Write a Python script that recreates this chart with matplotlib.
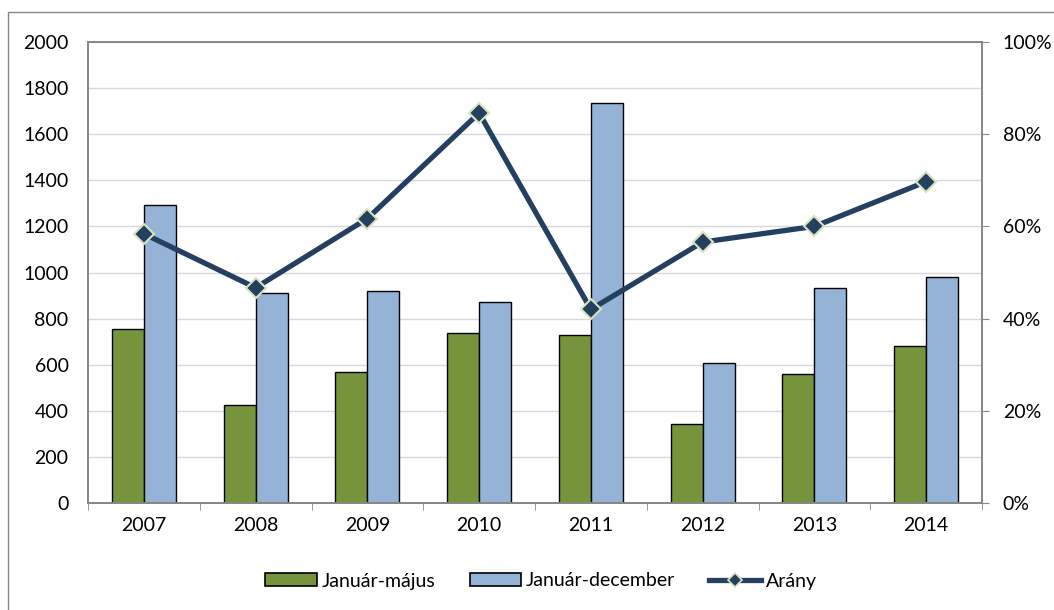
import matplotlib
matplotlib.use("Agg")
import matplotlib.pyplot as plt
import numpy as np
from matplotlib.lines import Line2D
from matplotlib.patches import Patch, Rectangle

plt.rcParams['font.family'] = ['Lato', 'DejaVu Sans']

years = ["2007", "2008", "2009", "2010", "2011", "2012", "2013", "2014"]
jan_maj = [755, 425, 568, 738, 729, 343, 560, 681]
jan_dec = [1293, 911, 920, 872, 1735, 607, 933, 980]
arany = [0.584, 0.467, 0.617, 0.846, 0.420, 0.566, 0.600, 0.697]

series_labels = ["Január-május", "Január-december", "Arány"]
green = "#77933C"
blue = "#95B3D7"
navy = "#243F60"
marker_edge = "#D7E4BD"
axis_gray = "#868686"
fs = 14

fig = plt.figure(figsize=(10.54, 6.10), dpi=100)
fig.patches.append(Rectangle((8 / 1054, -0.1), 1.2, 1 - 12 / 610 + 0.1,
                             transform=fig.transFigure, fill=False,
                             edgecolor=axis_gray, linewidth=1.0))

ax = fig.add_axes([88 / 1054, 1 - 503 / 610, (982 - 88) / 1054, (503 - 42) / 610])
x = np.arange(len(years))
w = 0.286
ax.bar(x - w / 2, jan_maj, w, color=green, edgecolor="black", linewidth=1.0, zorder=2)
ax.bar(x + w / 2, jan_dec, w, color=blue, edgecolor="black", linewidth=1.0, zorder=2)

ax.set_xlim(-0.5, len(years) - 0.5)
ax.set_ylim(0, 2000)
ax.set_yticks(np.arange(0, 2001, 200))
ax.yaxis.grid(True, color="#D9D9D9", linewidth=1.0, zorder=0)
ax.set_axisbelow(True)
ax.set_xticks(x)
ax.set_xticklabels(years)
ax.tick_params(axis="x", length=0, pad=10, labelsize=fs)
ax.tick_params(axis="y", length=0, pad=14, labelsize=fs)
ax.set_xticks(np.arange(-0.5, len(years) + 0.5, 1), minor=True)
ax.tick_params(axis="x", which="minor", length=5, direction="out", color=axis_gray)
for s in ax.spines.values():
    s.set_color(axis_gray)
    s.set_linewidth(1.2)

ax2 = ax.twinx()
ax2.set_ylim(0, 1.0)
ax2.set_yticks(np.arange(0, 1.01, 0.2))
ax2.set_yticklabels([f"{int(round(v * 100))}%" for v in np.arange(0, 1.01, 0.2)])
ax2.tick_params(axis="y", length=5, direction="out", color=axis_gray, pad=10, labelsize=fs)
for s in ax2.spines.values():
    s.set_color(axis_gray)
    s.set_linewidth(1.2)
ax2.plot(x, arany, color=navy, linewidth=3.8, marker="D", markersize=10,
         markerfacecolor=navy, markeredgecolor=marker_edge, markeredgewidth=1.5,
         zorder=5, solid_capstyle="round")

handles = [
    Patch(facecolor=green, edgecolor="black", linewidth=1.2),
    Patch(facecolor=blue, edgecolor="black", linewidth=1.2),
    Line2D([0], [0], color=navy, linewidth=3.8, marker="D", markersize=7,
           markerfacecolor=navy, markeredgecolor=marker_edge, markeredgewidth=1.2),
]
fig.legend(handles, series_labels, loc="center", bbox_to_anchor=(541 / 1054, 1 - 581 / 610),
           ncol=3, frameon=False, fontsize=fs, handlelength=2.65, handleheight=0.62,
           handletextpad=0.25, columnspacing=1.75)

fig.savefig("out.png", dpi=100)
